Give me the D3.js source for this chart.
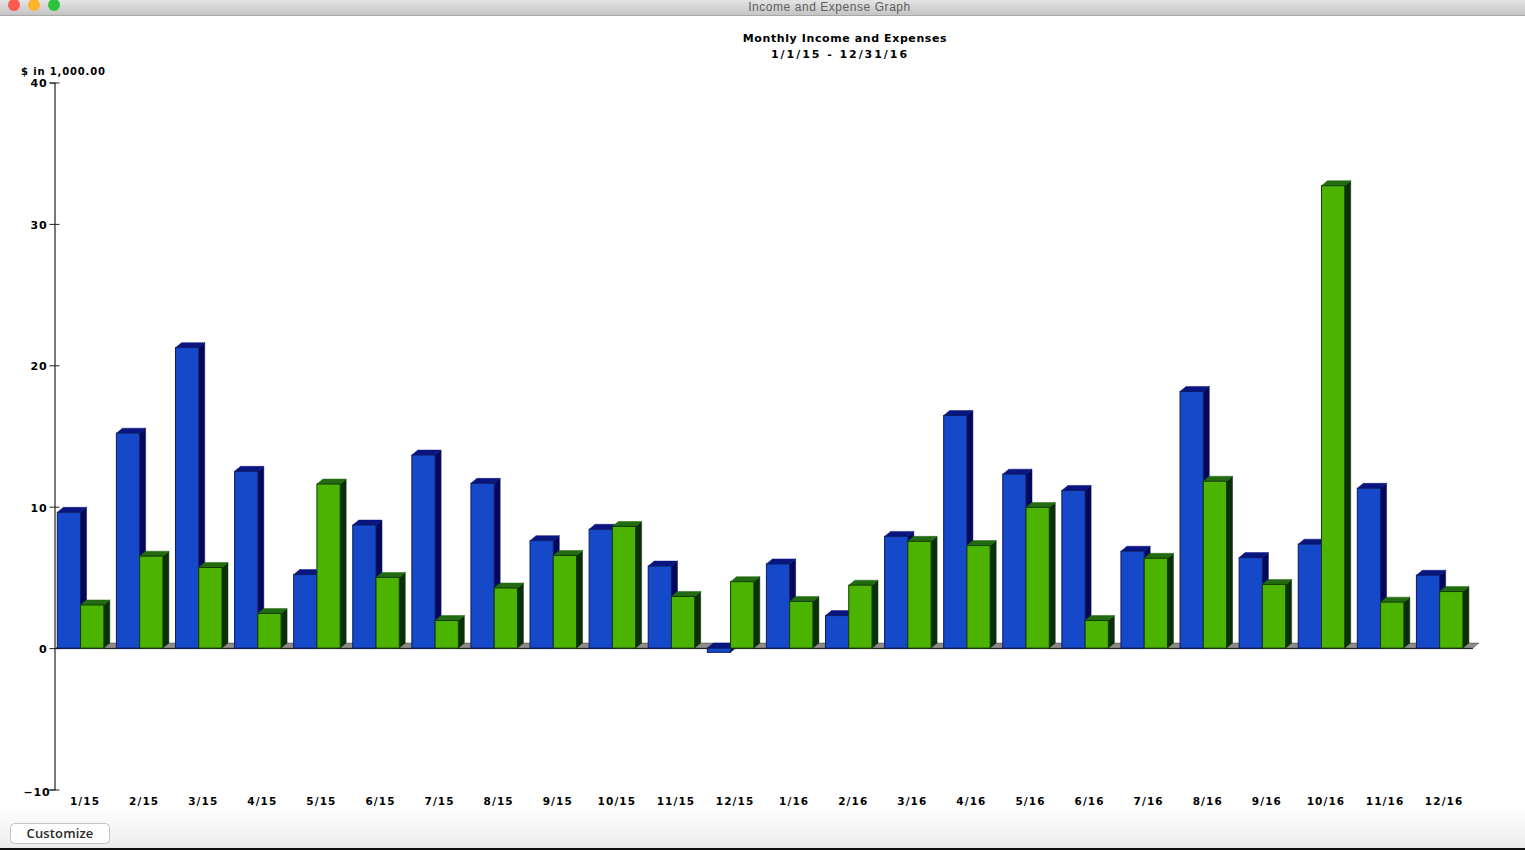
<!DOCTYPE html>
<html><head><meta charset="utf-8">
<script src="https://cdn.jsdelivr.net/npm/d3@7"></script>
<style>
html,body{margin:0;padding:0;background:#fff;overflow:hidden}
svg{display:block}
.pix{font-family:"DejaVu Sans",sans-serif;font-weight:700;fill:#000}
</style></head><body>
<svg id="c" width="1525" height="850"></svg>
<script>
const months=["1/15","2/15","3/15","4/15","5/15","6/15","7/15","8/15","9/15","10/15","11/15","12/15","1/16","2/16","3/16","4/16","5/16","6/16","7/16","8/16","9/16","10/16","11/16","12/16"];
const income=[9.6,15.2,21.25,12.5,5.2,8.7,13.65,11.65,7.6,8.4,5.8,-0.3,5.95,2.3,7.9,16.45,12.3,11.15,6.85,18.15,6.4,7.35,11.3,5.15];
const expenses=[3.05,6.5,5.7,2.45,11.6,5.0,1.95,4.25,6.55,8.6,3.65,4.7,3.3,4.45,7.55,7.25,9.95,1.95,6.35,11.8,4.5,32.7,3.25,4.0];
const yTicks=[-10,0,10,20,30,40];
const seriesNames=["income","expenses"];
const palette={income:{front:"#1549c9",top:"#0b1580",side:"#05085a"},expenses:{front:"#4cb300",top:"#226b10",side:"#0a3008"}};

const svg=d3.select("#c");
const defs=svg.append("defs");
const g1=defs.append("linearGradient").attr("id","bar").attr("x1",0).attr("x2",0).attr("y1",0).attr("y2",1);
g1.append("stop").attr("offset",0).attr("stop-color","#e4e4e4");
g1.append("stop").attr("offset",1).attr("stop-color","#c4c4c4");
const g2=defs.append("linearGradient").attr("id","foot").attr("x1",0).attr("x2",0).attr("y1",0).attr("y2",1);
g2.append("stop").attr("offset",0).attr("stop-color","#ffffff");
g2.append("stop").attr("offset",1).attr("stop-color","#ececec");

// window chrome
svg.append("rect").attr("x",0).attr("y",0).attr("width",1525).attr("height",15).attr("fill","url(#bar)");
svg.append("rect").attr("x",0).attr("y",15).attr("width",1525).attr("height",1).attr("fill","#a8a8a8");
[[14,"#fc5a50"],[34,"#fdb32c"],[54,"#2cc23e"]].forEach(([cx,f])=>svg.append("circle").attr("cx",cx).attr("cy",5).attr("r",6).attr("fill",f));
svg.append("text").attr("x",829.5).attr("y",11).attr("text-anchor","middle").attr("font-family","'Liberation Sans',sans-serif").attr("font-size",12).attr("letter-spacing",.55).attr("fill","#5f5f5f").text("Income and Expense Graph");
svg.append("rect").attr("x",0).attr("y",805).attr("width",1525).attr("height",43).attr("fill","url(#foot)");
svg.append("rect").attr("x",0).attr("y",848).attr("width",1525).attr("height",2).attr("fill","#111");
svg.append("rect").attr("x",10.5).attr("y",823.5).attr("width",99).attr("height",20).attr("rx",4).attr("fill","#fdfdfd").attr("stroke","#c4c4c4");
svg.append("text").attr("x",60).attr("y",838).attr("text-anchor","middle").attr("font-family","'Open Sans',sans-serif").attr("font-size",13).attr("letter-spacing",.15).attr("font-weight",600).attr("fill","#2a2a2a").text("Customize");

// titles
const pix=(x,y,s,size,ls,anchor)=>svg.append("text").attr("class","pix").attr("x",x).attr("y",y).attr("font-size",size).attr("letter-spacing",ls).attr("text-anchor",anchor||"middle").text(s);
pix(845,42,"Monthly Income and Expenses",11,.6);
pix(840,58,"1/1/15 - 12/31/16",11,1.95);
pix(21,75,"$ in 1,000.00",10,.85,"start");

// scales
const y=d3.scaleLinear().domain([-10,40]).range([789.5,82.5]);
const x=d3.scaleBand().domain(months).range([51,1469.2]).paddingInner(0.213).paddingOuter(0.1065);
const xs=d3.scaleBand().domain(seriesNames).range([0,x.bandwidth()]);
const dx=6,dy=5,zero=y(0);

// floor
const plot=svg.append("g");
const fx0=56,fx1=x(months[23])+x.bandwidth()+10;
plot.append("path").attr("d",d3.line()([[fx0,zero],[fx0+dx,zero-dy],[fx1+dx,zero-dy],[fx1,zero]])+"Z").attr("fill","#8f8b8b").attr("stroke","#3a3a3a").attr("stroke-width",.5);
plot.append("line").attr("x1",fx0).attr("x2",fx1).attr("y1",zero+.5).attr("y2",zero+.5).attr("stroke","#111");

// bars
const rows=months.flatMap((m,i)=>[{m,s:"income",v:income[i]},{m,s:"expenses",v:expenses[i]}]);
const bars=plot.selectAll("g.bar").data(rows).join("g").attr("class","bar");
const L=d=>x(d.m)+xs(d.s), R=d=>L(d)+xs.bandwidth(), T=d=>y(Math.max(d.v,0));
const B=d=>d.v<0?y(d.v):zero;
bars.append("path").attr("fill",d=>palette[d.s].side).attr("stroke",d=>palette[d.s].side).attr("stroke-width",.5)
 .attr("d",d=>d3.line()([[R(d),T(d)],[R(d)+dx,T(d)-dy],[R(d)+dx,B(d)-dy],[R(d),B(d)]])+"Z");
bars.append("path").attr("fill",d=>palette[d.s].top).attr("stroke",d=>palette[d.s].top).attr("stroke-width",.5)
 .attr("d",d=>d3.line()([[L(d),T(d)],[L(d)+dx,T(d)-dy],[R(d)+dx,T(d)-dy],[R(d),T(d)]])+"Z");
bars.append("rect").attr("x",L).attr("y",T).attr("width",xs.bandwidth()).attr("height",d=>B(d)-T(d))
 .attr("fill",d=>palette[d.s].front).attr("stroke",d=>d.s==="income"?"#0a1c60":"#123c06").attr("stroke-width",1);

// axes
const yAxis=d3.axisLeft(y).tickValues(yTicks).tickSize(5).tickPadding(0).tickFormat(d3.format("d"));
const ya=svg.append("g").attr("transform","translate(54.5,0)").call(yAxis);
ya.select(".domain").attr("stroke","#222").attr("stroke-width",1.2);
ya.selectAll(".tick line").attr("x1",5).attr("x2",-5).attr("stroke","#222");
ya.selectAll(".tick text").attr("class","pix").attr("font-size",11).attr("letter-spacing",.8).attr("font-family","'DejaVu Sans',sans-serif").attr("x",d=>d<0?-4:-7).attr("dy",d=>d<0?"0.5em":"0.4em").style("fill","#000");

const xAxis=d3.axisBottom(x).tickSize(0).tickPadding(0);
const xa=svg.append("g").attr("transform","translate(4.5,798)").call(xAxis);
xa.select(".domain").remove();
xa.selectAll(".tick text").attr("class","pix").attr("font-size",10.5).attr("letter-spacing",1.1).attr("font-family","'DejaVu Sans',sans-serif").attr("y",0).attr("dy","0.71em");
</script></body></html>
